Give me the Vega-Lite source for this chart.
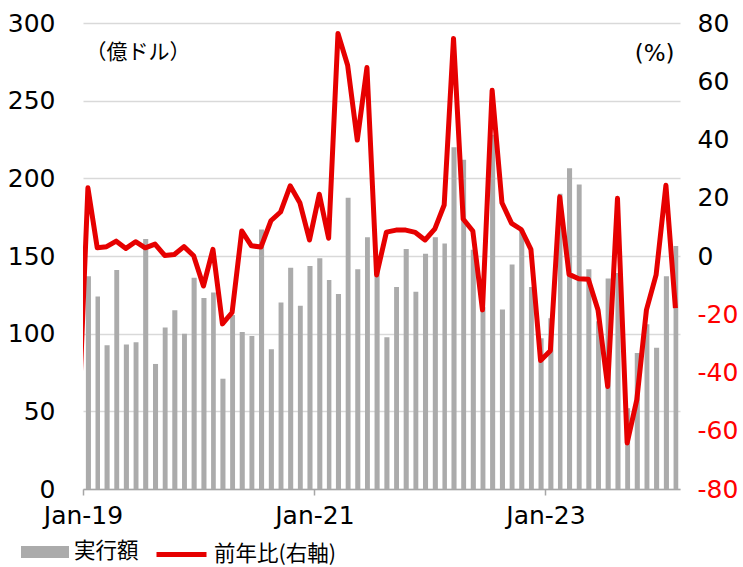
{
  "$schema": "https://vega.github.io/schema/vega-lite/v6.json",
  "width": 597,
  "height": 466,
  "autosize": "none",
  "padding": {"left": 83, "top": 23, "right": 63, "bottom": 78},
  "background": "white",
  "config": {
    "font": "Noto Sans CJK JP",
    "view": {"stroke": null}
  },
  "data": {
    "values": [
      {"month": "2018-12", "amount": null, "yoy": -60},
      {"month": "2019-01", "amount": 137, "yoy": 23.4},
      {"month": "2019-02", "amount": 124, "yoy": 2.8},
      {"month": "2019-03", "amount": 92.5, "yoy": 3.2},
      {"month": "2019-04", "amount": 141, "yoy": 5.1},
      {"month": "2019-05", "amount": 93, "yoy": 2.6},
      {"month": "2019-06", "amount": 94.5, "yoy": 4.9},
      {"month": "2019-07", "amount": 161, "yoy": 2.8},
      {"month": "2019-08", "amount": 80.5, "yoy": 4.1},
      {"month": "2019-09", "amount": 104, "yoy": 0.2},
      {"month": "2019-10", "amount": 115, "yoy": 0.5},
      {"month": "2019-11", "amount": 100, "yoy": 3.2},
      {"month": "2019-12", "amount": 136, "yoy": 0.1},
      {"month": "2020-01", "amount": 123, "yoy": -10.3},
      {"month": "2020-02", "amount": 126.5, "yoy": 2.3},
      {"month": "2020-03", "amount": 71, "yoy": -23.3},
      {"month": "2020-04", "amount": 112, "yoy": -19.4},
      {"month": "2020-05", "amount": 101, "yoy": 8.6},
      {"month": "2020-06", "amount": 98.5, "yoy": 3.5},
      {"month": "2020-07", "amount": 167, "yoy": 3.1},
      {"month": "2020-08", "amount": 90, "yoy": 12.1},
      {"month": "2020-09", "amount": 120, "yoy": 15.1},
      {"month": "2020-10", "amount": 142.5, "yoy": 24.1},
      {"month": "2020-11", "amount": 118, "yoy": 18.3},
      {"month": "2020-12", "amount": 143.5, "yoy": 5.5},
      {"month": "2021-01", "amount": 148.5, "yoy": 21.2},
      {"month": "2021-02", "amount": 134.5, "yoy": 6.1},
      {"month": "2021-03", "amount": 125.5, "yoy": 76.4},
      {"month": "2021-04", "amount": 187.5, "yoy": 65.5},
      {"month": "2021-05", "amount": 141.5, "yoy": 39.8},
      {"month": "2021-06", "amount": 162, "yoy": 64.7},
      {"month": "2021-07", "amount": 145, "yoy": -6.5},
      {"month": "2021-08", "amount": 97.7, "yoy": 8.2},
      {"month": "2021-09", "amount": 130, "yoy": 8.9},
      {"month": "2021-10", "amount": 154.5, "yoy": 8.9},
      {"month": "2021-11", "amount": 127, "yoy": 8.1},
      {"month": "2021-12", "amount": 151.5, "yoy": 5.5},
      {"month": "2022-01", "amount": 162, "yoy": 9.3},
      {"month": "2022-02", "amount": 158, "yoy": 17.5},
      {"month": "2022-03", "amount": 220, "yoy": 74.7},
      {"month": "2022-04", "amount": 212, "yoy": 12.7},
      {"month": "2022-05", "amount": 154, "yoy": 8.6},
      {"month": "2022-06", "amount": 117, "yoy": -18.5},
      {"month": "2022-07", "amount": 228, "yoy": 56.9},
      {"month": "2022-08", "amount": 115.5, "yoy": 18.3},
      {"month": "2022-09", "amount": 144.5, "yoy": 11.2},
      {"month": "2022-10", "amount": 167, "yoy": 9.1},
      {"month": "2022-11", "amount": 130, "yoy": 2.3},
      {"month": "2022-12", "amount": 97, "yoy": -35.9},
      {"month": "2023-01", "amount": 110, "yoy": -32.5},
      {"month": "2023-02", "amount": 190, "yoy": 20.3},
      {"month": "2023-03", "amount": 206.5, "yoy": -6.3},
      {"month": "2023-04", "amount": 196, "yoy": -7.8},
      {"month": "2023-05", "amount": 141.5, "yoy": -8.0},
      {"month": "2023-06", "amount": 108, "yoy": -18.5},
      {"month": "2023-07", "amount": 135.5, "yoy": -44.8},
      {"month": "2023-08", "amount": 139, "yoy": 19.8},
      {"month": "2023-09", "amount": 52, "yoy": -64.2},
      {"month": "2023-10", "amount": 87.5, "yoy": -49.4},
      {"month": "2023-11", "amount": 106, "yoy": -18.5},
      {"month": "2023-12", "amount": 91, "yoy": -6.5},
      {"month": "2024-01", "amount": 137, "yoy": 24.3},
      {"month": "2024-02", "amount": 156.5, "yoy": -17.9}
    ]
  },
  "resolve": {"scale": {"y": "independent"}},
  "layer": [
    {
      "mark": {"type": "bar", "width": {"band": 0.62}},
      "encoding": {
        "x": {
          "field": "month",
          "timeUnit": "utcyearmonth",
          "type": "temporal",
          "bandPosition": 0.5,
          "scale": {"domain": [{"year": 2019, "month": 1, "date": 1, "utc": true}, {"year": 2024, "month": 3, "date": 1, "utc": true}]},
          "axis": {
            "title": null,
            "values": [{"year": 2019, "month": 1, "date": 1, "utc": true}, {"year": 2021, "month": 1, "date": 1, "utc": true}, {"year": 2023, "month": 1, "date": 1, "utc": true}],
            "format": "%b-%y",
            "labelFont": "DejaVu Sans",
            "labelFontSize": 25,
            "labelColor": "#000000",
            "labelAlign": "center",
            "labelDx": 3,
            "labelPadding": 8,
            "domainColor": "#a6a6a6",
            "domainWidth": 1.5,
            "tickColor": "#a6a6a6",
            "tickWidth": 1.5,
            "tickSize": 6,
            "grid": false
          }
        },
        "y": {
          "field": "amount",
          "type": "quantitative",
          "scale": {"domain": [0, 300], "nice": false},
          "axis": {
            "values": [0, 50, 100, 150, 200, 250, 300],
            "title": "（億ドル）",
            "titleFont": "Noto Sans CJK JP",
            "titleAngle": 0,
            "titleAlign": "left",
            "titleBaseline": "middle",
            "titleX": 2,
            "titleY": 29,
            "titleFontSize": 21,
            "titleFontWeight": "normal",
            "titleColor": "#000000",
            "labelFont": "DejaVu Sans",
            "labelFontSize": 25,
            "labelColor": "#000000",
            "labelPadding": 28,
            "domain": false,
            "ticks": false,
            "grid": true,
            "gridColor": "#d9d9d9",
            "gridWidth": 1.5
          }
        },
        "fill": {
          "datum": "実行額",
          "scale": {"range": ["#ababab"]},
          "legend": {
            "orient": "none",
            "legendX": -62,
            "legendY": 505,
            "title": null,
            "symbolType": "M-1,-0.25H1V0.25H-1Z",
            "symbolSize": 2304,
            "symbolStrokeWidth": 0,
            "labelFont": "Noto Sans CJK JP",
            "labelFontSize": 21.5,
            "labelLimit": 300,
            "labelColor": "#000000",
            "labelOffset": 5
          }
        }
      }
    },
    {
      "mark": {"type": "line", "color": "#e60000", "strokeWidth": 5, "strokeJoin": "round", "clip": true},
      "encoding": {
        "x": {"field": "month", "timeUnit": "utcyearmonth", "type": "temporal", "bandPosition": 0.5},
        "y": {
          "field": "yoy",
          "type": "quantitative",
          "scale": {"domain": [-80, 80], "nice": false},
          "axis": {
            "orient": "right",
            "values": [-80, -60, -40, -20, 0, 20, 40, 60, 80],
            "labelExpr": "datum.value + ''",
            "title": "(%)",
            "titleFont": "DejaVu Sans",
            "titleAngle": 0,
            "titleAlign": "right",
            "titleBaseline": "middle",
            "titleX": -6,
            "titleY": 30,
            "titleFontSize": 23,
            "titleFontWeight": "normal",
            "titleColor": "#000000",
            "labelFont": "DejaVu Sans",
            "labelFontSize": 25,
            "labelColor": {"condition": {"test": "datum.value < 0", "value": "#ff0000"}, "value": "#000000"},
            "labelPadding": 17,
            "domain": false,
            "ticks": false,
            "grid": false
          }
        },
        "stroke": {
          "datum": "前年比(右軸)",
          "scale": {"range": ["#e60000"]},
          "legend": {
            "orient": "none",
            "legendX": 71,
            "legendY": 504,
            "title": null,
            "symbolType": "stroke",
            "symbolSize": 2500,
            "symbolStrokeWidth": 5,
            "labelFont": "Noto Sans CJK JP",
            "labelFontSize": 21.5,
            "labelLimit": 300,
            "labelColor": "#000000",
            "labelOffset": 5
          }
        }
      }
    }
  ]
}
